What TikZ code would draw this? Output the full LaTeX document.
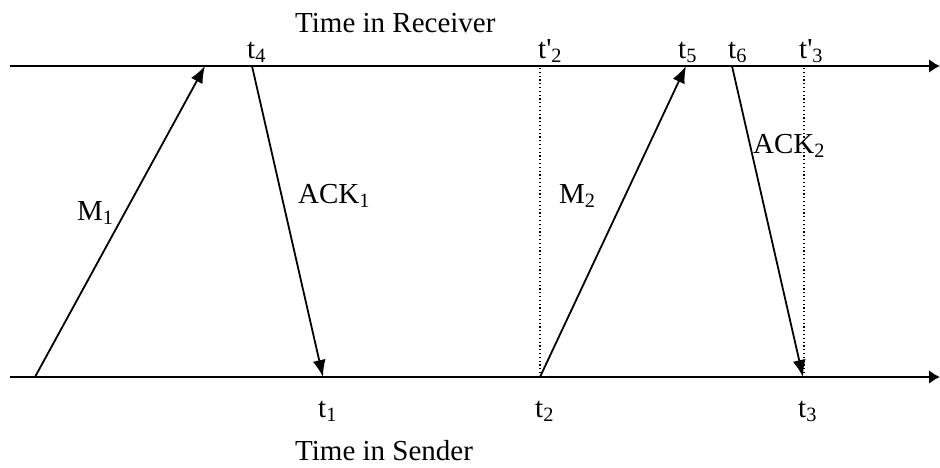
\documentclass[tikz,border=0pt]{standalone}
\usepackage{fontspec}
\setmainfont{Liberation Serif}
\usetikzlibrary{arrows.meta}

\tikzset{
  axis/.style={line width=2.4pt,-{Latex[length=11pt,width=14pt]}},
  msg/.style={line width=1.8pt,-{Latex[length=17pt,width=13pt]}},
  guide/.style={line width=1.4pt,dash pattern=on 1.2pt off 2.6pt},
  lbl/.style={font=\fontsize{29}{34}\selectfont,inner sep=0pt,anchor=base west}
}

\begin{document}
\begin{tikzpicture}[x=1pt,y=-1pt]
\useasboundingbox (0,0) rectangle (940,467);

% time lines
\coordinate (rx0) at (10,66);
\coordinate (rx1) at (940,66);
\coordinate (sx0) at (10,377);
\coordinate (sx1) at (940,377);
\draw[axis] (rx0) -- (rx1);
\draw[axis] (sx0) -- (sx1);

% events
\coordinate (m1s) at (35,377);
\coordinate (m1r) at (205,66);
\coordinate (a1s) at (252,66);
\coordinate (a1r) at (323,377);
\coordinate (m2s) at (540,377);
\coordinate (m2r) at (686,66);
\coordinate (a2s) at (732,66);
\coordinate (a2r) at (803,377);
\coordinate (p2) at (540,66);
\coordinate (p3) at (804,66);
\coordinate (q3) at (804,377);

\draw[guide] (m2s) -- (p2);
\draw[guide] (q3) -- (p3);

\draw[msg] (m1s) -- (m1r);
\draw[msg] (a1s) -- (a1r);
\draw[msg] (m2s) -- (m2r);
\draw[msg] (a2s) -- (a2r);

% labels
\node[lbl] (recv) at (295,32) {Time in Receiver};
\node[lbl] (send) at (295,460) {Time in Sender};
\node[lbl] (t4) at (247,58) {t\textsubscript{4}};
\node[lbl] (tp2) at (538,58) {t\textquotesingle\textsubscript{2}};
\node[lbl] (t5) at (678,58) {t\textsubscript{5}};
\node[lbl] (t6) at (728,58) {t\textsubscript{6}};
\node[lbl] (tp3) at (799,58) {t\textquotesingle\textsubscript{3}};
\node[lbl] (m1) at (77,220) {M\textsubscript{1}};
\node[lbl] (ack1) at (298,203) {ACK\textsubscript{1}};
\node[lbl] (m2) at (559,203) {M\textsubscript{2}};
\node[lbl] (ack2) at (753,153) {ACK\textsubscript{2}};
\node[lbl] (t1) at (318,417) {t\textsubscript{1}};
\node[lbl] (t2) at (535,417) {t\textsubscript{2}};
\node[lbl] (t3) at (798,417) {t\textsubscript{3}};
\end{tikzpicture}
\end{document}
